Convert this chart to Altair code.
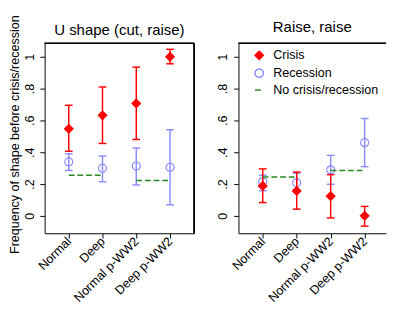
import altair as alt
import pandas as pd

FONT = "Liberation Sans"
RED = "#ff0000"
BLUE = "#8c8cff"
GREEN = "#228b22"

categories = ["Normal", "Deep", "Normal p-WW2", "Deep p-WW2"]
series_names = ["Crisis", "Recession", "No crisis/recession"]
y_ticks = [0, 0.2, 0.4, 0.6, 0.8, 1]

# Panel 1: U shape (cut, raise)
u_crisis = [0.547, 0.632, 0.707, 1.0]
u_crisis_lo = [0.406, 0.455, 0.48, 0.956]
u_crisis_hi = [0.695, 0.81, 0.935, 1.047]
u_rec = [0.339, 0.299, 0.313, 0.305]
u_rec_lo = [0.285, 0.214, 0.194, 0.069]
u_rec_hi = [0.39, 0.376, 0.426, 0.541]
u_none = [0.255, 0.222]  # (Normal, Deep), (Normal p-WW2, Deep p-WW2)

# Panel 2: Raise, raise
r_crisis = [0.188, 0.156, 0.123, 0.0]
r_crisis_lo = [0.083, 0.042, -0.014, -0.065]
r_crisis_hi = [0.295, 0.275, 0.259, 0.059]
r_rec = [0.215, 0.208, 0.289, 0.46]
r_rec_lo = [0.158, 0.15, 0.198, 0.309]
r_rec_hi = [0.255, 0.268, 0.38, 0.612]
r_none = [0.244, 0.285]

label_expr = "[" + ",".join("'%s'" % c for c in categories) + "][datum.value]"
H = 197


def panel(title, crisis, c_lo, c_hi, rec, r_lo, r_hi, none, width, x_max,
          y_title, show_legend, title_offset):
    def frame(vals, lo, hi, name):
        return pd.DataFrame({"x": list(range(len(categories))),
                             "series": [name] * len(categories),
                             "v": vals, "lo": lo, "hi": hi})

    rec_df = frame(rec, r_lo, r_hi, "Recession")
    cri_df = frame(crisis, c_lo, c_hi, "Crisis")
    line_rows = []
    for j, lvl in enumerate(none):
        for i in (2 * j, 2 * j + 1):
            line_rows.append({"x": i, "seg": j, "series": "No crisis/recession", "v": lvl})
    line_df = pd.DataFrame(line_rows)

    if show_legend:
        leg = alt.Legend(title=None, orient="none", legendX=15, legendY=6, padding=0,
                         labelFont=FONT, labelFontSize=13, symbolSize=75,
                         symbolStrokeWidth=1.5, rowPadding=3.5, labelOffset=8,
                         labelColor="black")
    else:
        leg = None

    color = alt.Color("series:N", scale=alt.Scale(domain=series_names, range=[RED, BLUE, GREEN]), legend=leg)
    fill = alt.Fill("series:N", scale=alt.Scale(domain=series_names, range=[RED, "transparent", GREEN]), legend=leg)
    shape = alt.Shape("series:N", scale=alt.Scale(domain=series_names, range=["diamond", "circle", "stroke"]), legend=leg)
    dash = alt.StrokeDash("series:N", scale=alt.Scale(domain=series_names, range=[[1, 0], [1, 0], [6, 3]]), legend=leg)

    xs = alt.Scale(domain=[-0.714, x_max], nice=False, zero=False)
    ys = alt.Scale(domain=[-0.11, 1.085], nice=False, zero=False)

    x_axis = alt.Axis(values=[0, 1, 2, 3], labelExpr=label_expr, labelAngle=315,
                      labelFont=FONT, labelFontSize=13, labelColor="black",
                      labelOverlap=False, labelAlign="right", labelBaseline="middle",
                      tickSize=5, tickColor="black", grid=False, title=None,
                      domain=True, domainColor="black", labelPadding=1)
    y_args = dict(values=y_ticks, format="~g", labelExpr="replace(datum.label, '0.', '.')",
                  labelAngle=270, labelAlign="center", labelBaseline="bottom",
                  labelOverlap=False, labelFlush=False,
                  labelFont=FONT, labelFontSize=13, labelColor="black",
                  tickSize=5, tickColor="black", grid=False, labelPadding=4,
                  domain=True, domainColor="black")
    if y_title:
        y_axis = alt.Axis(title=y_title, titleFont=FONT, titleFontSize=13,
                          titleFontWeight="normal", titleColor="black",
                          titleAngle=270, titleAlign="left", titleY=218,
                          titlePadding=2, **y_args)
    else:
        y_axis = alt.Axis(title=None, **y_args)

    X = alt.X("x:Q", scale=xs, axis=x_axis)

    def YQ(field):
        return alt.Y(field, type="quantitative", scale=ys, axis=y_axis)

    def series_layers(df, psize):
        base = alt.Chart(df)
        rule = base.mark_rule(strokeWidth=1.5).encode(
            x=X, y=YQ("lo"), y2="hi:Q", color=color)
        cap_lo = base.mark_rule(strokeWidth=1.5, xOffset=-4, x2Offset=4).encode(
            x=X, x2="x:Q", y=YQ("lo"), color=color)
        cap_hi = base.mark_rule(strokeWidth=1.5, xOffset=-4, x2Offset=4).encode(
            x=X, x2="x:Q", y=YQ("hi"), color=color)
        pts = base.mark_point(size=psize, strokeWidth=1.2, opacity=1).encode(
            x=X, y=YQ("v"), color=color, fill=fill, shape=shape)
        return [rule, cap_lo, cap_hi, pts]

    layers = series_layers(rec_df, 70) + series_layers(cri_df, 80)
    lines = alt.Chart(line_df).mark_line(strokeWidth=1.5).encode(
        x=X, y=YQ("v"), detail="seg:N", color=color, strokeDash=dash)
    layers.append(lines)

    # frame lines (top, and right where visible)
    top = alt.Chart(line_df).mark_rule(color="black", strokeWidth=1).encode(
        x=alt.value(0), x2=alt.value(width), y=alt.value(0))
    layers.append(top)
    if not show_legend:
        rgt = alt.Chart(line_df).mark_rule(color="black", strokeWidth=1).encode(
            x=alt.value(width), y=alt.value(0), y2=alt.value(H))
        layers.append(rgt)

    props = dict(width=width, height=H,
                 title=alt.TitleParams(title, font=FONT, fontSize=15.5, fontWeight="normal",
                                       color="black", anchor="middle",
                                       offset=title_offset, frame="group"),
                 view=alt.ViewBackground(stroke="transparent"))
    return alt.layer(*layers).properties(**props)


left = panel("U shape (cut, raise)", u_crisis, u_crisis_lo, u_crisis_hi,
             u_rec, u_rec_lo, u_rec_hi, u_none, 155, 3.714,
             "Frequency of shape before crisis/recession", False, -25)
right = panel("Raise, raise", r_crisis, r_crisis_lo, r_crisis_hi,
              r_rec, r_rec_lo, r_rec_hi, r_none, 153, 3.63, None, True, 8)

chart = alt.hconcat(left, right, spacing=22).resolve_scale(
    color="independent", fill="independent", shape="independent",
    strokeDash="independent", x="independent", y="independent"
).resolve_legend(
    color="independent", fill="independent", shape="independent", strokeDash="independent"
).properties(
    padding={"left": 0, "top": 0, "right": 0, "bottom": 0}
).configure(background="white")

chart.save("out.html", embed_options={"renderer": "svg", "actions": False})
